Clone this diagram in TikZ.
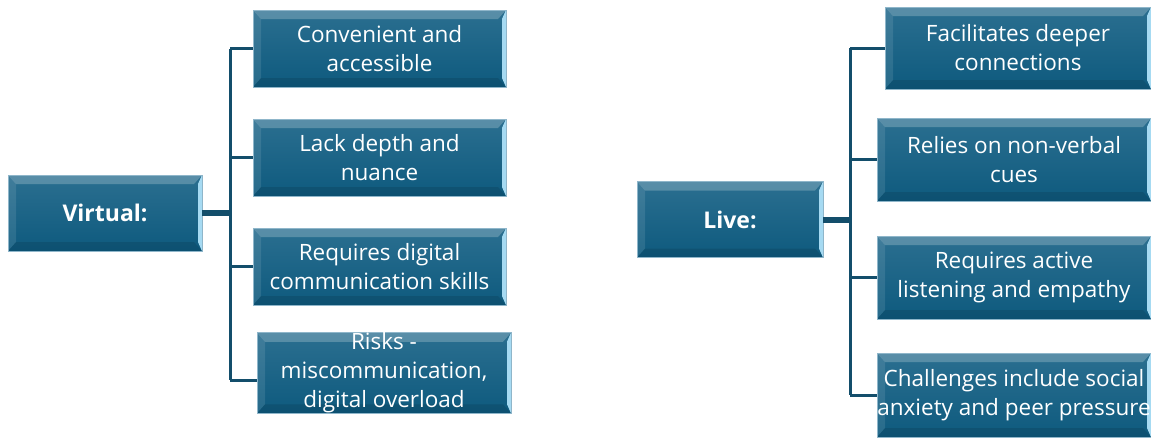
\documentclass[tikz,border=0pt]{standalone}
\usepackage{fontspec}
\setmainfont{Open Sans}
\usepackage{tikz}
\usetikzlibrary{positioning}

\definecolor{boxtop}{HTML}{2B6F90}
\definecolor{boxbot}{HTML}{0E5A7E}
\definecolor{boxline}{HTML}{8FB6CA}
\definecolor{bevlight}{HTML}{A6DAF2}
\definecolor{linkcol}{HTML}{134E6B}

\begin{document}
\begin{tikzpicture}[x=1pt,y=-1pt,
  bevbox/.style n args={2}{draw=boxline,line width=0.7pt,top color=boxtop,bottom color=boxbot,
    minimum width=#1pt,minimum height=#2pt,inner sep=0pt,text=white,align=center,
    font=\fontsize{22.5}{29}\selectfont,
    path picture={
      \fill[white,opacity=0.22] (path picture bounding box.north west) -- (path picture bounding box.north east)
        -- ([xshift=-8pt,yshift=-9pt]path picture bounding box.north east) -- ([xshift=8pt,yshift=-9pt]path picture bounding box.north west) -- cycle;
      \fill[white,opacity=0.10] (path picture bounding box.north west) -- ([xshift=8pt,yshift=-9pt]path picture bounding box.north west)
        -- ([xshift=8pt,yshift=9pt]path picture bounding box.south west) -- (path picture bounding box.south west) -- cycle;
      \fill[black,opacity=0.10] (path picture bounding box.south west) -- (path picture bounding box.south east)
        -- ([xshift=-8pt,yshift=9pt]path picture bounding box.south east) -- ([xshift=8pt,yshift=9pt]path picture bounding box.south west) -- cycle;
      \fill[bevlight] (path picture bounding box.north east) -- ([xshift=-4pt,yshift=-9pt]path picture bounding box.north east)
        -- ([xshift=-4pt,yshift=9pt]path picture bounding box.south east) -- (path picture bounding box.south east) -- cycle;
    }},
  rootbox/.style={bevbox={#1}{76},font=\fontsize{23}{29}\selectfont\bfseries},
  trunk/.style={linkcol,line width=6pt},
  branch/.style={linkcol,line width=3pt}]
\useasboundingbox (0,0) rectangle (1151,437);

% left tree
\node[rootbox=194] (virt) at (105,213) {Virtual:};
\node[bevbox={253}{77}] (v1) at (379.5,48.5) {Convenient and\\accessible};
\node[bevbox={253}{77}] (v2) at (379.5,157.5) {Lack depth and\\nuance};
\node[bevbox={253}{77}] (v3) at (379.5,266.5) {Requires digital\\communication skills};
\node[bevbox={254}{76}] (v4) at (384,373) {Risks -\\miscommunication,\\digital overload};
\coordinate (vbus) at (230,213);
\coordinate (v4in) at ([yshift=-7pt]v4.west);
\draw[trunk] (virt.east) -- (vbus);
\draw[branch] (vbus |- v1) -- (vbus |- v4in);
\foreach \c in {v1.west,v2.west,v3.west,v4in} {
  \draw[branch] (vbus |- \c) -- (\c);
}

% right tree
\node[rootbox=186] (live) at (730,219.5) {Live:};
\node[bevbox={266}{82}] (l1) at (1018,48) {Facilitates deeper\\connections};
\node[bevbox={274}{83}] (l2) at (1014,159.5) {Relies on non-verbal\\cues};
\node[bevbox={274}{83}] (l3) at (1014,277.5) {Requires active\\listening and empathy};
\node[bevbox={274}{84}] (l4) at (1014,395) {Challenges include social\\anxiety and peer pressure};
\coordinate (lbus) at (850,219.5);
\draw[trunk] (live.east) -- (lbus);
\draw[branch] (lbus |- l1) -- (lbus |- l4.west);
\foreach \c in {l1,l2,l3,l4} {
  \draw[branch] (lbus |- \c.west) -- (\c.west);
}
\end{tikzpicture}
\end{document}
